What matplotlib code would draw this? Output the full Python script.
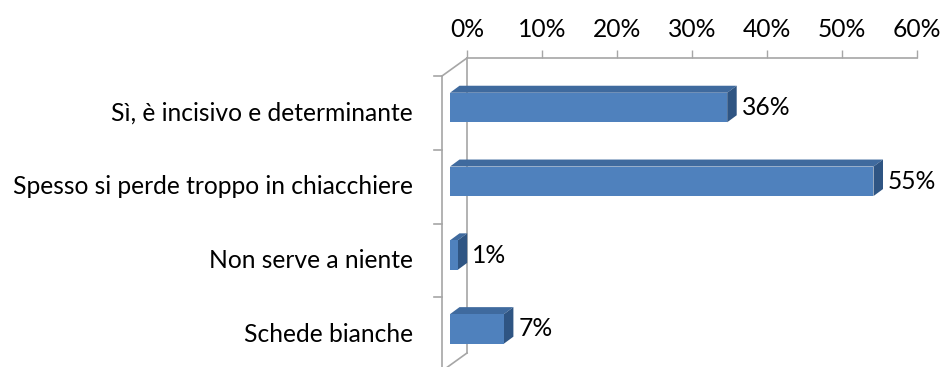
import matplotlib
matplotlib.use('Agg')
import matplotlib.pyplot as plt
from matplotlib.patches import Polygon
from matplotlib.lines import Line2D
from matplotlib.transforms import offset_copy, IdentityTransform

plt.rcParams['font.family'] = ['Lato', 'DejaVu Sans']

# risposte e percentuali
categories = ['Sì, è incisivo e determinante',
              'Spesso si perde troppo in chiacchiere',
              'Non serve a niente',
              'Schede bianche']
values = [36, 55, 1, 7]
ticks = [0, 10, 20, 30, 40, 50, 60]
tick_labels = ['0%', '10%', '20%', '30%', '40%', '50%', '60%']

FRONT = '#4F81BD'
TOP = '#3F6A9E'
SIDE = '#2F5583'
WALL = '#A6A6A6'
FS = 17.7

W, H = 952, 367
fig = plt.figure(figsize=(W / 100, H / 100), dpi=100)


def px_axes(x0, y0, x1, y1):
    # box in pixels, measured from the top-left corner
    return fig.add_axes([x0 / W, 1 - y1 / H, (x1 - x0) / W, (y1 - y0) / H])


n = len(categories)
ypos = list(range(n))

# parete di fondo con l'asse dei valori in alto
ax_back = px_axes(467, 58, 917, 353)
ax_back.set_xlim(0, 60)
ax_back.set_ylim(n - 0.5, -0.5)
ax_back.patch.set_visible(False)
ax_back.xaxis.tick_top()
ax_back.set_xticks(ticks)
ax_back.set_xticklabels(tick_labels, fontsize=FS)
ax_back.tick_params(axis='x', direction='out', length=6, width=1, color=WALL, pad=6)
ax_back.set_yticks([])
for s in ['right', 'bottom']:
    ax_back.spines[s].set_visible(False)
for s in ['top', 'left']:
    ax_back.spines[s].set_color(WALL)
    ax_back.spines[s].set_linewidth(1.2)

# parete frontale: spostata in avanti rispetto al fondo
DX, DY = -25, -18
front_tr = offset_copy(ax_back.transAxes, fig=fig, x=DX, y=DY, units='dots')
fig.add_artist(Line2D([0, 0], [0, 1], transform=front_tr, color=WALL, lw=1.2,
                      clip_on=False))
tick_w = 8 / 450
for k in range(n + 1):
    yy = 1 - k / n
    fig.add_artist(Line2D([-tick_w, 0], [yy, yy], transform=front_tr, color=WALL,
                          lw=1.2, clip_on=False))
corners = ax_back.transAxes.transform([(0, 1), (0, 0)])
for cx, cy in corners:
    fig.add_artist(Line2D([cx, cx + DX], [cy, cy + DY], transform=IdentityTransform(),
                          color=WALL, lw=1.2, clip_on=False))

# etichette delle categorie sulla parete frontale
lab_tr = offset_copy(ax_back.get_yaxis_transform(), fig=fig, x=DX - 29, y=DY,
                     units='dots')
for i, c in enumerate(categories):
    ax_back.text(0, i, c, transform=lab_tr, ha='right', va='center', fontsize=FS)

# piano delle barre
ax_bar = px_axes(450, 70.6, 912, 365.8)
ax_bar.set_xlim(0, 60)
ax_bar.set_ylim(n - 0.5, -0.5)
ax_bar.axis('off')
ax_bar.patch.set_visible(False)

h = 0.40
bar_px = 912 - 450
ddx = 9.5 * 60 / bar_px
ddy = -7 * n / (365.8 - 70.6)

ax_bar.barh(ypos, values, height=h, color=FRONT, zorder=3)
for i, v in zip(ypos, values):
    y0, y1 = i - h / 2, i + h / 2
    top = Polygon([(0, y0), (v, y0), (v + ddx, y0 + ddy), (ddx, y0 + ddy)],
                  closed=True, facecolor=TOP, edgecolor='none', zorder=2)
    side = Polygon([(v, y0), (v + ddx, y0 + ddy), (v + ddx, y1 + ddy), (v, y1)],
                   closed=True, facecolor=SIDE, edgecolor='none', zorder=2)
    ax_bar.add_patch(top)
    ax_bar.add_patch(side)
    ax_bar.annotate(f'{v}%', xy=(v + ddx, i), xytext=(5, 0),
                    textcoords='offset pixels', ha='left', va='center', fontsize=FS)

fig.savefig('out.png', dpi=100)
